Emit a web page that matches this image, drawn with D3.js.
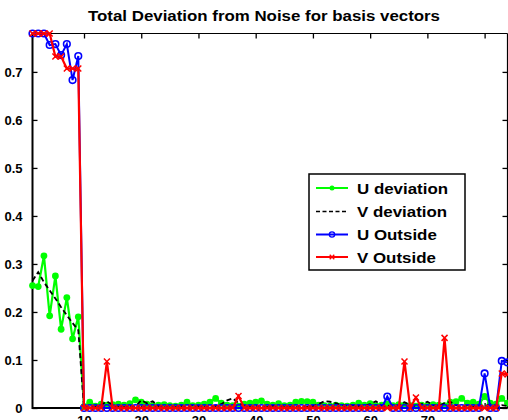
<!DOCTYPE html>
<html>
<head>
<meta charset="utf-8">
<script src="https://cdn.jsdelivr.net/npm/d3@7/dist/d3.min.js"></script>
<style>
  body { margin: 0; background: #fff; }
  svg { display: block; font-family: "Liberation Sans", Arial, Helvetica, sans-serif; }
</style>
</head>
<body>
<div id="chart"></div>
<script>
// basis vector index runs 1..84
var uDeviation = [
  0.255, 0.253, 0.317, 0.192, 0.275, 0.164, 0.23, 0.144, 0.19,
  0.003, 0.012, 0.004, 0.008, 0.006, 0.007, 0.008, 0.006, 0.009, 0.017,
  0.012, 0.008, 0.005, 0.006, 0.007, 0.005, 0.004, 0.006, 0.012, 0.005,
  0.006, 0.008, 0.012, 0.02, 0.01, 0.006, 0.005, 0.004, 0.008, 0.01,
  0.012, 0.015, 0.008, 0.006, 0.009, 0.005, 0.006, 0.012, 0.014, 0.013,
  0.012, 0.006, 0.005, 0.004, 0.006, 0.005, 0.004, 0.006, 0.01, 0.006,
  0.009, 0.005, 0.006, 0.008, 0.005, 0.007, 0.006, 0.005, 0.004, 0.006,
  0.005, 0.007, 0.006, 0.005, 0.012, 0.013, 0.02, 0.01, 0.012, 0.008,
  0.024, 0.01, 0.008, 0.02, 0.01
]
var vDeviation = [
  0.265, 0.283, 0.262, 0.245, 0.228, 0.21, 0.193, 0.177, 0.162,
  0.0, 0.002, 0.003, 0.006, 0.014, 0.006, 0.003, 0.002, 0.004, 0.003,
  0.016, 0.01, 0.014, 0.004, 0.002, 0.003, 0.002, 0.004, 0.003, 0.006,
  0.004, 0.003, 0.005, 0.004, 0.008, 0.016, 0.02, 0.01, 0.005, 0.003,
  0.004, 0.003, 0.002, 0.005, 0.004, 0.003, 0.002, 0.003, 0.002, 0.003,
  0.004, 0.008, 0.014, 0.013, 0.01, 0.006, 0.005, 0.006, 0.004, 0.005,
  0.008, 0.014, 0.006, 0.005, 0.004, 0.006, 0.012, 0.006, 0.004, 0.008,
  0.013, 0.006, 0.004, 0.01, 0.013, 0.006, 0.004, 0.005, 0.003, 0.006,
  0.004, 0.008, 0.004, 0.006, 0.004
]
var uOutside = [
  0.78, 0.78, 0.78, 0.756, 0.758, 0.735, 0.758, 0.683, 0.733,
  0, 0, 0, 0, 0, 0, 0, 0, 0, 0,
  0, 0, 0, 0, 0, 0, 0, 0, 0, 0,
  0, 0, 0, 0, 0, 0, 0, 0, 0, 0,
  0, 0, 0, 0, 0, 0, 0, 0, 0, 0,
  0, 0, 0, 0, 0, 0, 0, 0, 0, 0,
  0, 0, 0, 0.024, 0, 0, 0, 0, 0, 0,
  0, 0, 0, 0, 0, 0, 0, 0, 0, 0,
  0.072, 0, 0, 0.098, 0.095
]
var vOutside = [
  0.78, 0.78, 0.78, 0.78, 0.732, 0.732, 0.707, 0.707, 0.707,
  0, 0, 0, 0, 0.097, 0, 0, 0, 0, 0,
  0, 0, 0, 0, 0, 0, 0, 0, 0, 0,
  0, 0, 0, 0, 0, 0, 0, 0.025, 0, 0,
  0, 0, 0, 0, 0, 0, 0, 0, 0, 0,
  0, 0, 0, 0, 0, 0, 0, 0, 0, 0,
  0, 0, 0, 0, 0, 0, 0.097, 0, 0.022, 0,
  0, 0, 0, 0.146, 0, 0, 0, 0, 0, 0,
  0, 0, 0, 0.072, 0.07
]
var xTicks = [10, 20, 30, 40, 50, 60, 70, 80]
var yTicks = [0, 0.1, 0.2, 0.3, 0.4, 0.5, 0.6, 0.7]
var seriesNames = ['U deviation', 'V deviation', 'U Outside', 'V Outside']

var width = 508
var height = 420
var axLeft = 32.5
var axRight = 507.5
var axTop = 33.5
var axBottom = 408

var x = d3.scaleLinear().domain([1, 84]).range([axLeft, axRight])
var y = d3.scaleLinear().domain([0, 0.78]).range([axBottom, axTop])

var svg = d3.select('#chart').append('svg')
  .attr('width', width)
  .attr('height', height)

svg.append('rect').attr('width', width).attr('height', height).attr('fill', '#fff')

// title (reference glyphs are a bit wider than the font, so stretch it)
var title = svg.append('text')
  .attr('x', 88)
  .attr('y', 21)
  .style('font-size', '15px')
  .style('font-weight', 'bold')
  .text('Total Deviation from Noise for basis vectors')
title.attr('textLength', 352).attr('lengthAdjust', 'spacingAndGlyphs')

// axes (matlab style box, ticks inside)
var axisG = svg.append('g')

var yAxisL = d3.axisLeft(y).tickValues(yTicks).tickSizeInner(-5).tickSizeOuter(0).tickPadding(10)
  .tickFormat(function (d) { return d === 0 ? '0' : d3.format('.1f')(d) })
var yAxisR = d3.axisRight(y).tickValues(yTicks).tickSizeInner(-5).tickSizeOuter(0).tickFormat('')
var xAxisT = d3.axisTop(x).tickValues(xTicks).tickSizeInner(-5).tickSizeOuter(0).tickFormat('')
var xAxisB = d3.axisBottom(x).tickValues(xTicks).tickSizeInner(-5).tickSizeOuter(0).tickPadding(8)

axisG.append('g').attr('transform', 'translate(' + axLeft + ',0)').call(yAxisL)
axisG.append('g').attr('transform', 'translate(' + axRight + ',0)').call(yAxisR)
axisG.append('g').attr('transform', 'translate(0,' + axTop + ')').call(xAxisT)
axisG.append('g').attr('transform', 'translate(0,' + axBottom + ')').call(xAxisB)

axisG.selectAll('.domain').remove()
axisG.selectAll('.tick line').attr('stroke', '#000').attr('stroke-width', 1.3)
axisG.selectAll('.tick text')
  .attr('fill', '#000')
  .style('font-size', '13px')
  .style('font-weight', 'bold')
  .style('font-family', '"Liberation Sans", Arial, Helvetica, sans-serif')

// box lines
svg.append('line').attr('x1', axLeft).attr('x2', axRight).attr('y1', axTop).attr('y2', axTop)
  .attr('stroke', '#000').attr('stroke-width', 1.2)
svg.append('line').attr('x1', axRight).attr('x2', axRight).attr('y1', axTop).attr('y2', axBottom)
  .attr('stroke', '#000').attr('stroke-width', 1.2)
svg.append('line').attr('x1', axLeft).attr('x2', axLeft).attr('y1', axTop - 1).attr('y2', axBottom + 1)
  .attr('stroke', '#000').attr('stroke-width', 2)
svg.append('line').attr('x1', axLeft).attr('x2', axRight).attr('y1', axBottom).attr('y2', axBottom)
  .attr('stroke', '#000').attr('stroke-width', 2)

var line = d3.line()
  .x(function (d, i) { return x(i + 1) })
  .y(function (d) { return y(d) })

var plotG = svg.append('g')

function crossPath (cx, cy, s) {
  return 'M' + (cx - s) + ',' + (cy - s) + 'L' + (cx + s) + ',' + (cy + s) +
    'M' + (cx - s) + ',' + (cy + s) + 'L' + (cx + s) + ',' + (cy - s)
}

// U deviation
plotG.append('path').datum(uDeviation)
  .attr('d', line).attr('fill', 'none').attr('stroke', '#00ff00').attr('stroke-width', 2.2)
plotG.append('g').selectAll('circle').data(uDeviation).enter().append('circle')
  .attr('cx', function (d, i) { return x(i + 1) })
  .attr('cy', function (d) { return y(d) })
  .attr('r', 3.4)
  .attr('fill', '#00ff00')

// V deviation
plotG.append('path').datum(vDeviation)
  .attr('d', line).attr('fill', 'none').attr('stroke', '#000')
  .attr('stroke-width', 1.8).attr('stroke-dasharray', '5,3')

// U Outside
plotG.append('path').datum(uOutside)
  .attr('d', line).attr('fill', 'none').attr('stroke', '#0000ff').attr('stroke-width', 2)
plotG.append('g').selectAll('circle').data(uOutside).enter().append('circle')
  .attr('cx', function (d, i) { return x(i + 1) })
  .attr('cy', function (d) { return y(d) })
  .attr('r', 3.3)
  .attr('fill', 'none')
  .attr('stroke', '#0000ff')
  .attr('stroke-width', 1.6)

// V Outside
plotG.append('path').datum(vOutside)
  .attr('d', line).attr('fill', 'none').attr('stroke', '#ff0000').attr('stroke-width', 2.2)
plotG.append('g').selectAll('path').data(vOutside).enter().append('path')
  .attr('d', function (d, i) { return crossPath(x(i + 1), y(d), 3) })
  .attr('stroke', '#ff0000')
  .attr('stroke-width', 1.5)

// legend
var legend = svg.append('g')
legend.append('rect')
  .attr('x', 309).attr('y', 174).attr('width', 156).attr('height', 96)
  .attr('fill', '#fff').attr('stroke', '#000').attr('stroke-width', 1.5)

var legendColors = ['#00ff00', '#000', '#0000ff', '#ff0000']
var legendY = [188, 211.5, 234.5, 257]

seriesNames.forEach(function (name, i) {
  var ly = legendY[i]
  var ln = legend.append('line')
    .attr('x1', 316).attr('x2', 348).attr('y1', ly).attr('y2', ly)
    .attr('stroke', legendColors[i]).attr('stroke-width', i === 1 ? 1.5 : 2)
  if (i === 1) ln.attr('stroke-dasharray', '4,2.5')
  if (i === 0) {
    legend.append('circle').attr('cx', 332).attr('cy', ly).attr('r', 2.5).attr('fill', '#00ff00')
  } else if (i === 2) {
    legend.append('circle').attr('cx', 332).attr('cy', ly).attr('r', 2.6)
      .attr('fill', 'none').attr('stroke', '#0000ff').attr('stroke-width', 1.4)
  } else if (i === 3) {
    legend.append('path').attr('d', crossPath(332, ly, 2.3))
      .attr('stroke', '#ff0000').attr('stroke-width', 1.3)
  }
  var t = legend.append('text')
    .attr('x', 357).attr('y', ly + 5.5)
    .style('font-size', '15.5px')
    .style('font-weight', 'bold')
    .text(name)
  var len = t.node().getComputedTextLength()
  t.attr('textLength', len * 1.09).attr('lengthAdjust', 'spacingAndGlyphs')
})
</script>
</body>
</html>
